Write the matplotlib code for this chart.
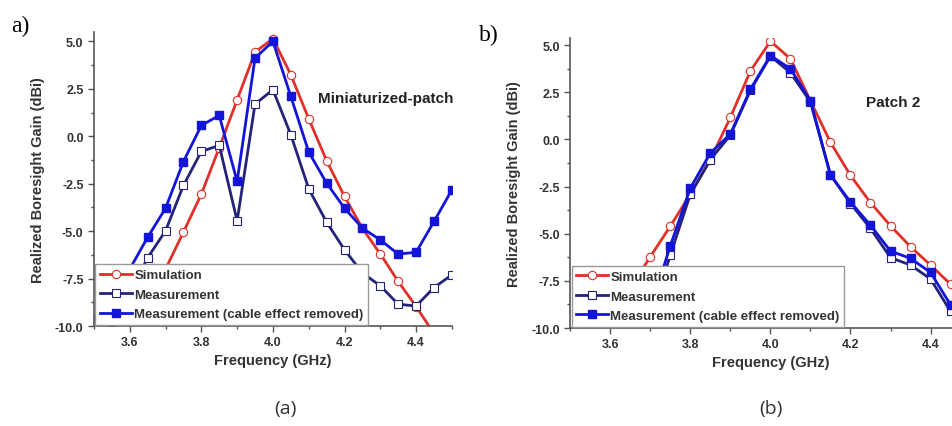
import matplotlib.pyplot as plt
from matplotlib.ticker import MultipleLocator

# panel a) Miniaturized-patch
freq_a = [3.50, 3.55, 3.60, 3.65, 3.70, 3.75, 3.80, 3.85, 3.90, 3.95, 4.00,
          4.05, 4.10, 4.15, 4.20, 4.25, 4.30, 4.35, 4.40, 4.45, 4.50]
sim_a = [-14.5, -12.8, -11.0, -9.0, -7.0, -5.05, -3.05, -0.6, 1.92, 4.44, 5.14,
         3.24, 0.92, -1.29, -3.17, -4.85, -6.2, -7.65, -8.97, -10.4, -11.8]
meas_a = [-10.3, -9.8, -8.3, -6.4, -4.98, -2.59, -0.80, -0.48, -4.46, 1.70, 2.45,
          0.08, -2.77, -4.53, -5.98, -7.2, -7.88, -8.85, -8.94, -7.97, -7.3]
cable_a = [-9.6, -8.5, -7.0, -5.32, -3.79, -1.33, 0.57, 1.10, -2.38, 4.12, 5.0,
           2.10, -0.83, -2.47, -3.79, -4.84, -5.46, -6.21, -6.11, -4.49, -2.82]

# panel b) Patch 2
freq_b = [3.60, 3.65, 3.70, 3.75, 3.80, 3.85, 3.90, 3.95, 4.00, 4.05, 4.10,
          4.15, 4.20, 4.25, 4.30, 4.35, 4.40, 4.45, 4.50]
sim_b = [-10.5, -7.9, -6.22, -4.60, -2.9, -1.07, 1.17, 3.63, 5.21, 4.28, 2.05,
         -0.15, -1.91, -3.35, -4.58, -5.69, -6.66, -7.68, -8.7]
meas_b = [-13.0, -11.5, -9.5, -6.13, -2.91, -1.07, 0.23, 2.60, 4.42, 3.54, 1.99,
          -1.88, -3.40, -4.72, -6.27, -6.66, -7.40, -9.12, -8.6]
cable_b = [-12.5, -11.0, -9.0, -5.64, -2.58, -0.72, 0.29, 2.66, 4.45, 3.75, 2.05,
           -1.88, -3.32, -4.55, -5.92, -6.31, -7.05, -8.77, -8.4]

labels = ["Simulation", "Measurement", "Measurement (cable effect removed)"]
RED = "#e0302a"
NAVY = "#23237a"
BLUE = "#1414d8"
TXT = "#333333"

plt.rcParams['font.family'] = ['Liberation Sans', 'DejaVu Sans']
plt.rcParams['font.weight'] = 'bold'

fig = plt.figure(figsize=(9.52, 4.27), dpi=100)


def draw_panel(ax, freq, sim, meas, cable, ytop, note, note_xy):
    ax.plot(freq, sim, color=RED, lw=2, marker='o', ms=6, mfc='white',
            mec=RED, mew=0.8, label=labels[0])
    ax.plot(freq, meas, color=NAVY, lw=2, marker='s', ms=6, mfc='white',
            mec=NAVY, mew=0.8, label=labels[1])
    ax.plot(freq, cable, color=BLUE, lw=2, marker='s', ms=5.5, mfc=BLUE,
            mec=BLUE, label=labels[2])
    ax.set_xlim(3.5, 4.5)
    ax.set_ylim(-10, ytop)
    ax.set_xticks([3.6, 3.8, 4.0, 4.2, 4.4])
    ax.set_yticks([5.0, 2.5, 0.0, -2.5, -5.0, -7.5, -10.0])
    ax.xaxis.set_minor_locator(MultipleLocator(0.1))
    ax.yaxis.set_minor_locator(MultipleLocator(1.25))
    ax.yaxis.set_major_formatter(plt.FormatStrFormatter('%.1f'))
    ax.xaxis.set_major_formatter(plt.FormatStrFormatter('%.1f'))
    for s in ['top', 'right']:
        ax.spines[s].set_visible(False)
    for s in ['left', 'bottom']:
        ax.spines[s].set_color('#555555')
        ax.spines[s].set_linewidth(1.2)
    ax.tick_params(which='major', length=4, width=1, colors='#555555',
                   labelcolor=TXT, labelsize=9)
    ax.tick_params(which='minor', length=2.5, width=1, colors='#555555')
    ax.set_xlabel("Frequency (GHz)", fontsize=10.5, fontweight='bold',
                  color=TXT, labelpad=3)
    ax.set_ylabel("Realized Boresight Gain (dBi)", fontsize=10.5,
                  fontweight='bold', color=TXT, labelpad=7)
    ax.text(note_xy[0], note_xy[1], note, fontsize=11, fontweight='bold',
            color='#222222')
    leg = ax.legend(loc='lower left', bbox_to_anchor=(0.0, 0.0), fontsize=9.5,
                    frameon=True, fancybox=False, framealpha=1,
                    borderaxespad=0.1, handlelength=2.4, handletextpad=0.2,
                    labelspacing=0.55, borderpad=0.35)
    leg.get_frame().set_edgecolor('#999999')
    leg.get_frame().set_linewidth(1)
    for t in leg.get_texts():
        t.set_color(TXT)


ax1 = fig.add_axes([0.0987, 0.234, 0.376, 0.689])
draw_panel(ax1, freq_a, sim_a, meas_a, cable_a, 5.5, "Miniaturized-patch",
           (4.125, 1.8))

ax2 = fig.add_axes([0.599, 0.2295, 0.4205, 0.680])
draw_panel(ax2, freq_b, sim_b, meas_b, cable_b, 5.4, "Patch 2", (4.24, 1.8))

fig.text(0.012, 0.925, "a)", fontsize=17, family='Liberation Serif',
         fontweight='normal')
fig.text(0.503, 0.905, "b)", fontsize=17, family='Liberation Serif',
         fontweight='normal')
fig.text(0.30, 0.03, "(a)", fontsize=14, fontweight='normal', color='#333333',
         family=['Open Sans', 'DejaVu Sans'], ha='center')
fig.text(0.81, 0.03, "(b)", fontsize=14, fontweight='normal', color='#333333',
         family=['Open Sans', 'DejaVu Sans'], ha='center')

fig.savefig("out.png", dpi=100)
